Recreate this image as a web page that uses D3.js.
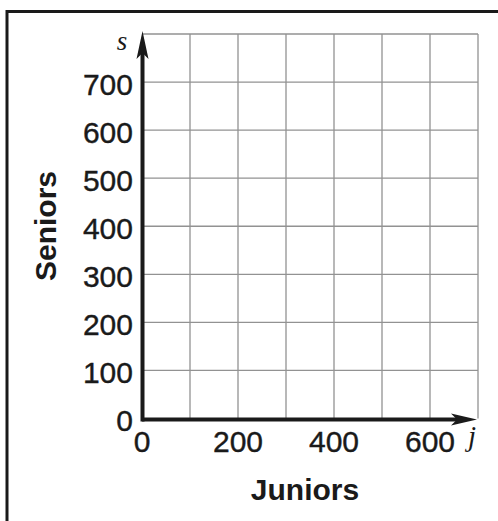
<!DOCTYPE html>
<html>
<head>
<meta charset="utf-8">
<script src="https://cdn.jsdelivr.net/npm/d3@7"></script>
<style>
  html, body { margin: 0; padding: 0; background: #fff; }
  svg { display: block; }
</style>
</head>
<body>
<svg id="chart" width="498" height="521"></svg>
<script>
// ---- data ----
const xDomain = [0, 700];
const yDomain = [0, 800];
const xGrid = [100, 200, 300, 400, 500, 600, 700];
const yGrid = [100, 200, 300, 400, 500, 600, 700, 800];
const xTickLabels = [0, 200, 400, 600];
const yTickLabels = [0, 100, 200, 300, 400, 500, 600, 700];
const xAxisTitle = "Juniors";
const yAxisTitle = "Seniors";
const xVar = "j";
const yVar = "s";

// ---- drawing ----
const svg = d3.select("#chart");
const ink = "#1a1a1a";
const sans = "'Liberation Sans', Arial, Helvetica, sans-serif";
const serif = "'Liberation Serif', 'Times New Roman', serif";

const x = d3.scaleLinear().domain(xDomain).range([142, 478]);
const y = d3.scaleLinear().domain(yDomain).range([418.5, 34]);

// outer frame (extends past right/bottom edges)
svg.append("rect")
  .attr("x", 7).attr("y", 11.5)
  .attr("width", 700).attr("height", 700)
  .attr("fill", "none").attr("stroke", ink).attr("stroke-width", 3);

// grid
const grid = svg.append("g").attr("stroke", "#929292").attr("stroke-width", 1.3).attr("fill", "none");
grid.selectAll("line.v").data(xGrid).join("line").attr("class", "v")
  .attr("x1", d => x(d)).attr("x2", d => x(d))
  .attr("y1", y(yDomain[0])).attr("y2", y(yDomain[1]));
grid.selectAll("line.h").data(yGrid).join("line").attr("class", "h")
  .attr("y1", d => y(d)).attr("y2", d => y(d))
  .attr("x1", x(xDomain[0])).attr("x2", x(xDomain[1]));

// axes (thick lines with arrowheads)
const ax = svg.append("g");
ax.append("line")
  .attr("x1", x(0)).attr("x2", x(xDomain[1]) - 16)
  .attr("y1", y(0) + 1).attr("y2", y(0) + 1)
  .attr("stroke", ink).attr("stroke-width", 4);
ax.append("line")
  .attr("x1", x(0) + 0.5).attr("x2", x(0) + 0.5)
  .attr("y1", y(0) + 3).attr("y2", y(yDomain[1]) + 16)
  .attr("stroke", ink).attr("stroke-width", 4);
// arrowheads
const tipX = [x(xDomain[1]) - 1, y(0) + 1];
ax.append("path")
  .attr("d", `M${tipX[0]},${tipX[1]} L${tipX[0]-26},${tipX[1]-6} L${tipX[0]-20},${tipX[1]} L${tipX[0]-26},${tipX[1]+6} Z`)
  .attr("fill", ink);
const tipY = [x(0) + 0.5, y(yDomain[1]) - 3];
ax.append("path")
  .attr("d", `M${tipY[0]},${tipY[1]} L${tipY[0]-6},${tipY[1]+28} L${tipY[0]},${tipY[1]+22} L${tipY[0]+6},${tipY[1]+28} Z`)
  .attr("fill", ink);

// y tick labels
svg.append("g").selectAll("text").data(yTickLabels).join("text")
  .attr("x", 133).attr("y", d => y(d) + 12.5)
  .attr("text-anchor", "end")
  .attr("font-family", sans).attr("font-size", 30).attr("fill", ink)
  .attr("stroke", ink).attr("stroke-width", 0.4)
  .text(d => d);

// x tick labels
svg.append("g").selectAll("text").data(xTickLabels).join("text")
  .attr("x", d => x(d)).attr("y", 452)
  .attr("text-anchor", "middle")
  .attr("font-family", sans).attr("font-size", 30).attr("fill", ink)
  .attr("stroke", ink).attr("stroke-width", 0.4)
  .text(d => d);

// variable names
svg.append("text").attr("x", 122).attr("y", 50)
  .attr("text-anchor", "middle")
  .attr("font-family", serif).attr("font-style", "italic").attr("font-size", 27).attr("fill", ink)
  .text(yVar);
svg.append("text").attr("x", 472).attr("y", 446)
  .attr("text-anchor", "middle")
  .attr("font-family", serif).attr("font-style", "italic").attr("font-size", 29).attr("fill", ink)
  .text(xVar);

// axis titles
svg.append("text").attr("x", 305).attr("y", 500)
  .attr("text-anchor", "middle")
  .attr("font-family", sans).attr("font-weight", "bold").attr("font-size", 30).attr("fill", ink)
  .text(xAxisTitle);
svg.append("text")
  .attr("transform", "translate(56,226) rotate(-90)")
  .attr("text-anchor", "middle")
  .attr("font-family", sans).attr("font-weight", "bold").attr("font-size", 30).attr("fill", ink)
  .text(yAxisTitle);
</script>
</body>
</html>
